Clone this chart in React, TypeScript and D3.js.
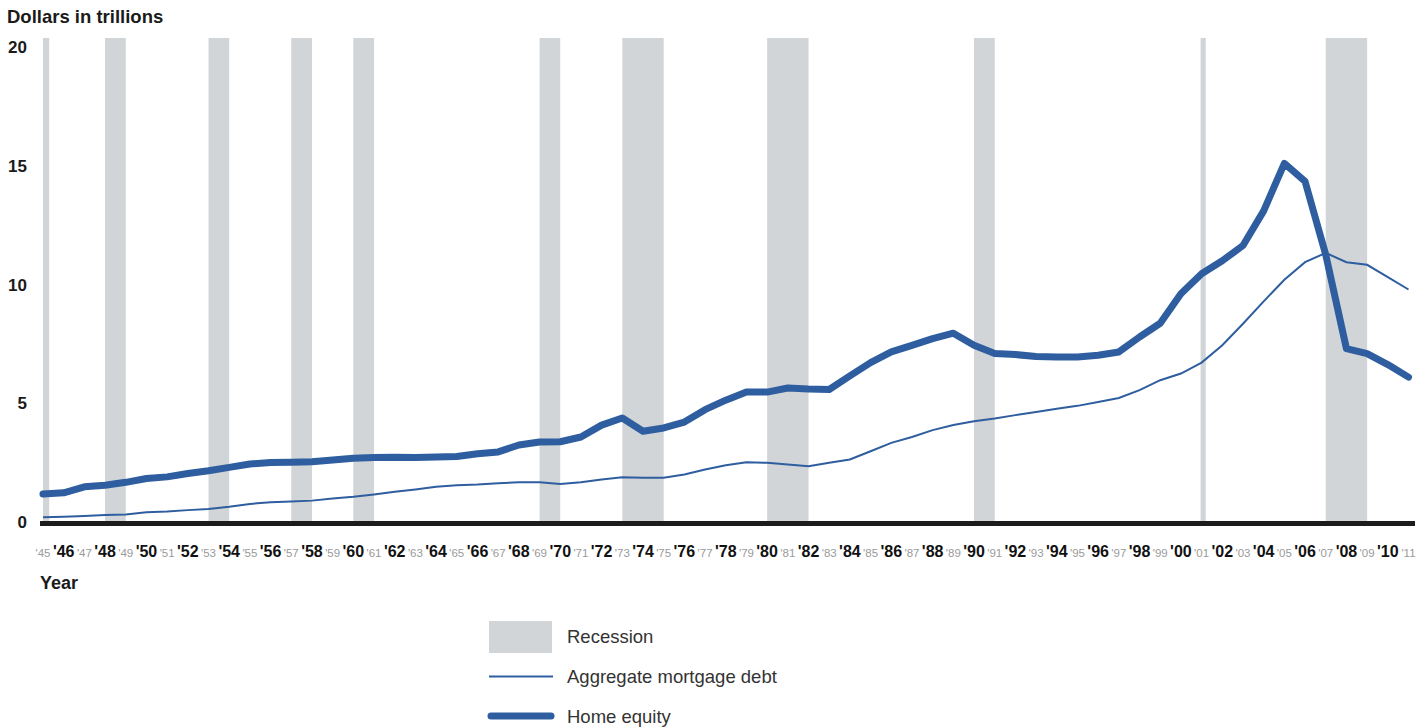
import { useEffect, useRef } from 'react';
import * as d3 from 'd3';

const years = [
  1945, 1946, 1947, 1948, 1949, 1950, 1951, 1952, 1953, 1954, 1955, 1956, 1957, 1958, 1959, 1960,
  1961, 1962, 1963, 1964, 1965, 1966, 1967, 1968, 1969, 1970, 1971, 1972, 1973, 1974, 1975, 1976,
  1977, 1978, 1979, 1980, 1981, 1982, 1983, 1984, 1985, 1986, 1987, 1988, 1989, 1990, 1991, 1992,
  1993, 1994, 1995, 1996, 1997, 1998, 1999, 2000, 2001, 2002, 2003, 2004, 2005, 2006, 2007, 2008,
  2009, 2010, 2011,
];

// dollars in trillions
const homeEquity = [
  1.18, 1.23, 1.48, 1.55, 1.67, 1.83, 1.9, 2.04, 2.16, 2.3, 2.44, 2.51, 2.52, 2.54, 2.61, 2.68,
  2.72, 2.73, 2.72, 2.74, 2.76, 2.87, 2.95, 3.24, 3.37, 3.38, 3.58, 4.08, 4.38, 3.82, 3.96, 4.21,
  4.73, 5.13, 5.47, 5.47, 5.64, 5.6, 5.58, 6.15, 6.71, 7.16, 7.44, 7.72, 7.95, 7.44, 7.09, 7.05,
  6.97, 6.95, 6.95, 7.02, 7.16, 7.79, 8.37, 9.61, 10.45, 11.0, 11.64, 13.1, 15.1, 14.34, 11.25, 7.3,
  7.09, 6.63, 6.1,
];

const mortgageDebt = [
  0.2, 0.22, 0.25, 0.29, 0.32, 0.41, 0.44, 0.5, 0.55, 0.64, 0.76, 0.83, 0.86, 0.9, 0.99, 1.06,
  1.16, 1.27, 1.37, 1.48, 1.55, 1.58, 1.63, 1.67, 1.67, 1.6, 1.67, 1.79, 1.88, 1.86, 1.86, 2.0,
  2.21, 2.39, 2.52, 2.49, 2.42, 2.35, 2.49, 2.63, 2.98, 3.33, 3.58, 3.87, 4.08, 4.24, 4.36, 4.5,
  4.63, 4.77, 4.89, 5.05, 5.22, 5.55, 5.97, 6.25, 6.71, 7.44, 8.35, 9.29, 10.2, 10.94, 11.33, 10.94,
  10.83, 10.31, 9.79,
];

// recession periods as [start, end] in fractional years
const recessions: [number, number][] = [
  [1945, 1945.3],
  [1948, 1949],
  [1953, 1954],
  [1957, 1958],
  [1960, 1961],
  [1969, 1970],
  [1973, 1975],
  [1980, 1982],
  [1990, 1991],
  [2000.95, 2001.2],
  [2007, 2009],
];

const yTicks = [0, 5, 10, 15, 20];

const legendItems = ['Recession', 'Aggregate mortgage debt', 'Home equity'];

const BLUE = '#2e5e9f';
const GRAY = '#d1d5d7';
const FONT = '"Liberation Sans", Arial, sans-serif';

const App = () => {
  const ref = useRef<SVGSVGElement | null>(null);
  const width = 1428;
  const height = 727;

  useEffect(() => {
    document.body.style.margin = '0';
    if (!ref.current) return;

    const svg = d3.select(ref.current);
    svg.selectAll('*').remove();
    svg.attr('width', width).attr('height', height).style('font-family', FONT);

    const x = d3.scaleLinear().domain([1945, 2011]).range([43, 1408.5]);
    const y = d3.scaleLinear().domain([0, 20]).range([522, 47]);

    // recession bands
    svg
      .append('g')
      .selectAll('rect')
      .data(recessions)
      .enter()
      .append('rect')
      .attr('x', (d) => x(d[0]))
      .attr('width', (d) => x(d[1]) - x(d[0]))
      .attr('y', 38)
      .attr('height', y(0) - 38)
      .attr('fill', GRAY);

    const line = d3
      .line<number>()
      .x((_, i) => x(years[i]))
      .y((d) => y(d));

    svg
      .append('path')
      .attr('d', line(mortgageDebt))
      .attr('fill', 'none')
      .attr('stroke', BLUE)
      .attr('stroke-width', 2);

    svg
      .append('path')
      .attr('d', line(homeEquity))
      .attr('fill', 'none')
      .attr('stroke', BLUE)
      .attr('stroke-width', 7)
      .attr('stroke-linejoin', 'round')
      .attr('stroke-linecap', 'round');

    // baseline
    svg
      .append('line')
      .attr('x1', 40)
      .attr('x2', 1415)
      .attr('y1', y(0) + 1.5)
      .attr('y2', y(0) + 1.5)
      .attr('stroke', '#1c1c1c')
      .attr('stroke-width', 5);

    // y axis labels
    svg
      .append('g')
      .selectAll('text')
      .data(yTicks)
      .enter()
      .append('text')
      .attr('x', 27)
      .attr('y', (d) => y(d) + 6)
      .attr('text-anchor', 'end')
      .attr('font-size', 17)
      .attr('font-weight', 'bold')
      .attr('fill', '#1a1a1a')
      .text((d) => d);

    svg
      .append('text')
      .attr('x', 7)
      .attr('y', 23)
      .attr('font-size', 18.5)
      .attr('font-weight', 'bold')
      .attr('fill', '#1a1a1a')
      .text('Dollars in trillions');

    // x axis labels, even years bold and odd years small grey
    svg
      .append('g')
      .selectAll('text')
      .data(years)
      .enter()
      .append('text')
      .attr('x', (d) => x(d))
      .attr('y', 557)
      .attr('text-anchor', 'middle')
      .attr('font-size', (d) => (d % 2 === 0 ? 16 : 11.5))
      .attr('font-weight', (d) => (d % 2 === 0 ? 'bold' : 'normal'))
      .attr('fill', (d) => (d % 2 === 0 ? '#111' : '#9a9a9a'))
      .text((d) => `'${String(d).slice(2)}`);

    svg
      .append('text')
      .attr('x', 40)
      .attr('y', 589)
      .attr('font-size', 18)
      .attr('font-weight', 'bold')
      .attr('fill', '#1a1a1a')
      .text('Year');

    // legend
    const legend = svg.append('g').attr('transform', 'translate(489,621)');
    legend.append('rect').attr('width', 63).attr('height', 32).attr('fill', GRAY);
    legend
      .append('line')
      .attr('x1', 0)
      .attr('x2', 64)
      .attr('y1', 55.5)
      .attr('y2', 55.5)
      .attr('stroke', BLUE)
      .attr('stroke-width', 2);
    legend
      .append('line')
      .attr('x1', 2)
      .attr('x2', 62)
      .attr('y1', 95)
      .attr('y2', 95)
      .attr('stroke', BLUE)
      .attr('stroke-width', 7)
      .attr('stroke-linecap', 'round');
    legend
      .selectAll('text.item')
      .data(legendItems)
      .enter()
      .append('text')
      .attr('class', 'item')
      .attr('x', 78)
      .attr('y', (_, i) => 22 + i * 40)
      .attr('font-size', 18.5)
      .attr('fill', '#333')
      .text((d) => d);
  }, []);

  return (
    <div style={{ width, height, overflow: 'hidden' }}>
      <svg ref={ref} role="img" aria-label="Home equity and mortgage debt chart" style={{ display: 'block' }} />
    </div>
  );
};

export default App;
